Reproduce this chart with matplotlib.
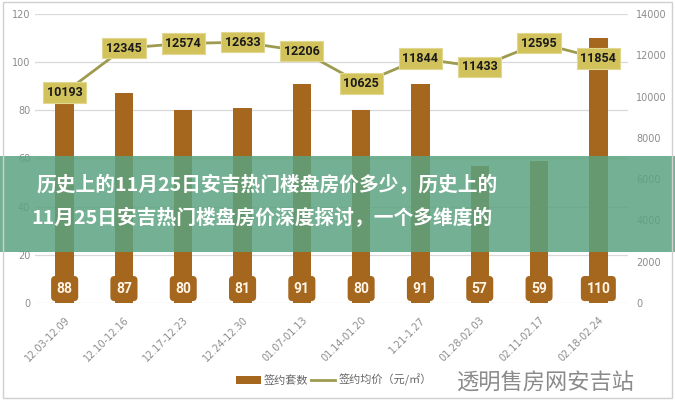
import matplotlib
matplotlib.use("Agg")
import matplotlib.pyplot as plt
from matplotlib.patches import Rectangle
from matplotlib.lines import Line2D
from matplotlib.patches import Patch

plt.rcParams['font.family'] = ['Noto Sans CJK SC', 'DejaVu Sans']

categories = ["12.03-12.09", "12.10-12.16", "12.17-12.23", "12.24-12.30", "01.07-01.13",
              "01.14-01.20", "1.21-1.27", "01.28-02.03", "02.11-02.17", "02.18-02.24"]
units_sold = [88, 87, 80, 81, 91, 80, 91, 57, 59, 110]
avg_price = [10193, 12345, 12574, 12633, 12206, 10625, 11844, 11433, 12595, 11854]
left_ticks = [0, 20, 40, 60, 80, 100, 120]
right_ticks = [0, 2000, 4000, 6000, 8000, 10000, 12000, 14000]
title_lines = ["历史上的11月25日安吉热门楼盘房价多少，历史上的",
               "11月25日安吉热门楼盘房价深度探讨，一个多维度的"]
legend_labels = ["签约套数", "签约均价（元/㎡）"]
watermark = "透明售房网安吉站"

BROWN = "#A5661E"
OLIVE = "#9E9B50"
BOXY = "#D2C25C"
GREY = "#8C8C8C"

fig = plt.figure(figsize=(6.75, 4.0), dpi=100)
ax = fig.add_axes([35/675, 1-303/400, (628-35)/675, (303-14)/400])
x = list(range(len(categories)))

ax.bar(x, units_sold, width=0.31, color=BROWN, zorder=2)
ax.set_ylim(0, 120)
ax.set_xlim(-0.5, len(categories)-0.5)
ax.set_yticks(left_ticks)
ax.grid(axis='y', color='#D9D9D9', linewidth=0.9, zorder=0)
for s in ax.spines.values():
    s.set_visible(False)
ax.tick_params(axis='both', length=0, colors=GREY, labelsize=7)
ax.set_xticks(x)
ax.set_xticklabels(categories, rotation=45, ha='right', rotation_mode='anchor',
                   fontfamily='DejaVu Sans', fontsize=7, color=GREY)
for lab in ax.get_xticklabels():
    lab.set_y(-0.025)
for lab in ax.get_yticklabels():
    lab.set_fontfamily('DejaVu Sans')

for xi, v in zip(x, units_sold):
    ax.text(xi, 6.0, str(v), ha='center', va='center', color='#FFF5E6', fontsize=10,
            fontweight='bold', fontfamily='Roboto', zorder=4,
            bbox=dict(boxstyle='round,pad=0.4,rounding_size=0.3', fc=BROWN, ec='none'))

ax2 = ax.twinx()
ax2.set_ylim(0, 14000)
ax2.set_yticks(right_ticks)
for s in ax2.spines.values():
    s.set_visible(False)
ax2.tick_params(axis='y', length=0, colors=GREY, labelsize=7, pad=6)
for lab in ax2.get_yticklabels():
    lab.set_fontfamily('DejaVu Sans')
ax2.plot(x, avg_price, color=OLIVE, linewidth=2, zorder=3)
for xi, v in zip(x, avg_price):
    ax2.text(xi, v, str(v), ha='center', va='center', color='#1a1a1a', fontsize=9,
             fontweight='bold', fontfamily='Roboto', zorder=5,
             bbox=dict(boxstyle='square,pad=0.3', fc=BOXY, ec='#e0d890', lw=0.8))

# legend
handles = [Patch(facecolor=BROWN, edgecolor='none'),
           Line2D([0], [0], color=OLIVE, lw=2)]
fig.legend(handles, legend_labels, loc='center', bbox_to_anchor=(0.495, 0.05),
           ncol=2, frameon=False, fontsize=8, labelcolor='#666666',
           handlelength=2.2, handletextpad=0.3, columnspacing=0.2)

fig.text(546/675, 1-383/400, watermark, ha='center', va='center',
         fontsize=16, color='#8A8A8A')

# overlay band
fig.add_artist(Rectangle((0, 1-252/400), 1, 96/400, transform=fig.transFigure,
                         facecolor=(0.36, 0.64, 0.50), alpha=0.85, edgecolor='none', zorder=10))
fig.text(267/675, 1-185/400, title_lines[0], ha='center', va='center', color='white',
         fontsize=14.2, fontweight='heavy', zorder=11)
fig.text(262/675, 1-218/400, title_lines[1], ha='center', va='center', color='white',
         fontsize=14.2, fontweight='heavy', zorder=11)

fig.add_artist(Rectangle((0.004, 0.004), 0.992, 0.992, transform=fig.transFigure,
                         facecolor='none', edgecolor='#D0D0D0', lw=1, zorder=12))

fig.savefig("out.png", dpi=100)
